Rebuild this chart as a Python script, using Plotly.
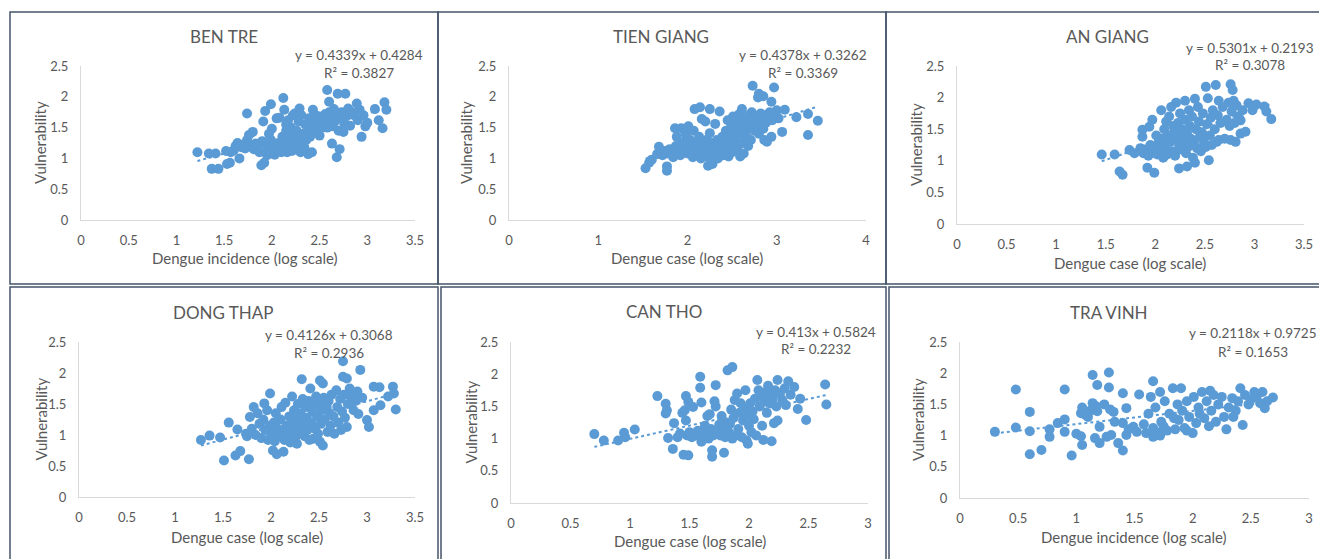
import plotly.graph_objects as go

W, H = 1319, 559
BLUE = "#5B9BD5"
TXT = "#595959"
FONT = "Lato"

titles = ["BEN TRE", "TIEN GIANG", "AN GIANG", "DONG THAP", "CAN THO", "TRA VINH"]
xtitles = ["Dengue incidence (log scale)", "Dengue case (log scale)", "Dengue case (log scale)",
           "Dengue case (log scale)", "Dengue case (log scale)", "Dengue incidence (log scale)"]
equations = ["y = 0.4339x + 0.4284", "y = 0.4378x + 0.3262", "y = 0.5301x + 0.2193",
             "y = 0.4126x + 0.3068", "y = 0.413x + 0.5824", "y = 0.2118x + 0.9725"]
r2_labels = ["R² = 0.3827", "R² = 0.3369", "R² = 0.3078", "R² = 0.2936", "R² = 0.2232", "R² = 0.1653"]
slopes = [0.4339, 0.4378, 0.5301, 0.4126, 0.413, 0.2118]
intercepts = [0.4284, 0.3262, 0.2193, 0.3068, 0.5824, 0.9725]
x_max = [3.5, 4, 3.5, 3.5, 3, 3]
x_dtick = [0.5, 1, 0.5, 0.5, 0.5, 0.5]

ben_tre = [(1.22,1.10),(1.34,1.08),(1.41,1.08),(1.37,0.83),(1.44,0.83),(1.53,0.91),(1.56,0.93),(1.52,1.12),(1.57,1.10),(1.60,1.13),(1.62,1.20),(1.64,1.25),(1.66,1.00),(1.68,1.18),(1.70,1.22),(1.72,1.16),(1.74,1.30),(1.74,1.73),(1.76,1.38),(1.78,1.20),(1.80,1.43),(1.81,1.15),(1.83,1.24),(1.85,1.18),(1.87,1.10),(1.89,0.89),(1.92,0.93),(1.90,1.28),(1.91,1.60),(1.93,1.77),(1.94,1.22),(1.95,1.05),(1.96,1.15),(1.97,1.40),(1.99,1.88),(1.99,1.30),(2.00,1.48),(2.01,1.12),(2.02,1.20),(2.03,1.06),(2.05,1.65),(2.06,1.15),(2.07,1.25),(2.08,1.66),(2.10,1.10),(2.11,1.35),(2.12,1.98),(2.13,1.79),(2.13,1.15),(2.14,1.20),(2.15,1.45),(2.15,1.55),(2.16,1.10),(2.17,1.30),(2.17,1.62),(2.18,1.40),(2.19,1.18),(2.19,1.25),(2.20,1.50),(2.21,1.12),(2.22,1.35),(2.22,1.70),(2.23,1.22),(2.24,1.73),(2.25,1.15),(2.26,1.45),(2.27,1.30),(2.28,1.60),(2.29,1.81),(2.30,1.10),(2.31,1.70),(2.32,1.25),(2.33,1.40),(2.34,1.18),(2.35,1.55),(2.36,1.30),(2.37,1.45),(2.38,1.07),(2.39,1.65),(2.40,1.35),(2.41,1.50),(2.42,1.10),(2.43,1.79),(2.44,1.60),(2.45,1.42),(2.46,1.70),(2.47,1.55),(2.48,1.62),(2.50,1.37),(2.50,1.68),(2.52,1.58),(2.53,1.50),(2.55,1.65),(2.56,1.72),(2.57,1.60),(2.58,2.11),(2.58,1.50),(2.60,1.92),(2.60,1.75),(2.62,1.66),(2.63,1.24),(2.64,1.52),(2.65,1.80),(2.66,1.60),(2.67,1.70),(2.68,1.02),(2.69,2.05),(2.70,1.45),(2.71,1.15),(2.72,1.65),(2.73,1.75),(2.75,1.43),(2.76,1.55),(2.77,2.05),(2.78,1.68),(2.80,1.81),(2.82,1.53),(2.84,1.75),(2.86,1.70),(2.89,1.89),(2.90,1.62),(2.92,1.79),(2.94,1.35),(2.96,1.70),(2.98,1.52),(3.00,1.58),(3.08,1.80),(3.12,1.62),(3.16,1.49),(3.18,1.91),(3.20,1.79)]

tien_giang = [(1.53,0.84),(1.57,0.93),(1.60,0.98),(1.66,1.07),(1.68,1.19),(1.70,1.10),(1.72,1.05),(1.75,1.12),(1.77,0.87),(1.77,0.80),(1.78,1.08),(1.80,1.15),(1.82,1.11),(1.84,1.02),(1.86,1.49),(1.87,1.20),(1.88,1.35),(1.90,1.10),(1.92,1.05),(1.93,1.49),(1.94,1.25),(1.95,1.15),(1.97,1.14),(1.98,1.40),(1.99,1.33),(2.00,1.08),(2.01,1.52),(2.02,1.20),(2.03,1.30),(2.05,1.10),(2.06,1.02),(2.07,1.45),(2.08,1.80),(2.09,1.18),(2.10,1.25),(2.11,1.05),(2.12,1.12),(2.13,1.35),(2.14,1.83),(2.15,1.00),(2.16,1.64),(2.17,1.22),(2.18,1.08),(2.19,1.15),(2.20,1.60),(2.21,1.30),(2.22,1.03),(2.23,0.88),(2.24,1.18),(2.25,1.80),(2.25,1.41),(2.26,1.10),(2.27,1.25),(2.28,0.91),(2.29,1.05),(2.30,1.20),(2.31,1.56),(2.32,1.12),(2.33,1.30),(2.34,1.00),(2.35,1.15),(2.36,1.76),(2.37,1.22),(2.38,1.08),(2.39,1.35),(2.40,1.05),(2.41,1.28),(2.42,1.12),(2.43,1.45),(2.44,1.18),(2.45,1.62),(2.46,1.03),(2.47,1.38),(2.48,1.25),(2.49,1.55),(2.50,1.10),(2.51,1.68),(2.52,1.42),(2.53,1.20),(2.54,1.30),(2.55,1.60),(2.56,1.15),(2.57,1.50),(2.58,1.72),(2.59,1.03),(2.60,1.40),(2.61,1.80),(2.62,1.25),(2.63,1.08),(2.64,1.55),(2.65,1.65),(2.66,1.35),(2.67,1.48),(2.68,1.20),(2.69,1.70),(2.70,1.58),(2.71,1.30),(2.72,1.75),(2.73,2.18),(2.74,1.62),(2.75,1.45),(2.76,1.52),(2.77,1.68),(2.79,1.99),(2.80,2.05),(2.80,1.40),(2.82,1.73),(2.83,1.60),(2.85,2.01),(2.85,1.48),(2.86,1.30),(2.87,1.70),(2.88,1.58),(2.89,1.27),(2.90,1.65),(2.92,1.75),(2.94,1.92),(2.94,1.35),(2.95,1.62),(2.97,2.15),(2.98,1.70),(3.00,1.78),(3.02,1.65),(3.06,1.43),(3.09,1.79),(3.22,1.67),(3.35,1.72),(3.35,1.38),(3.46,1.61)]

an_giang = [(1.46,1.10),(1.59,1.10),(1.64,0.83),(1.67,0.78),(1.74,1.17),(1.79,1.12),(1.85,1.20),(1.87,1.49),(1.87,1.38),(1.88,1.12),(1.90,1.18),(1.92,0.89),(1.93,1.08),(1.94,1.54),(1.95,1.25),(1.96,1.12),(1.97,1.65),(1.99,0.81),(2.00,1.20),(2.01,1.40),(2.02,1.10),(2.03,1.28),(2.05,1.15),(2.06,1.80),(2.07,1.35),(2.08,1.05),(2.09,1.50),(2.10,1.22),(2.11,1.62),(2.12,1.10),(2.13,1.40),(2.14,1.70),(2.15,1.30),(2.16,1.85),(2.17,1.15),(2.18,1.55),(2.19,1.45),(2.20,1.08),(2.21,1.92),(2.22,1.35),(2.23,1.60),(2.24,0.88),(2.24,1.25),(2.25,1.75),(2.26,1.18),(2.27,1.50),(2.28,1.40),(2.29,1.30),(2.30,1.95),(2.30,1.65),(2.31,1.12),(2.32,0.91),(2.32,1.45),(2.33,1.22),(2.34,1.80),(2.35,1.55),(2.36,1.35),(2.37,1.70),(2.38,1.05),(2.39,1.28),(2.40,0.97),(2.40,1.98),(2.41,1.50),(2.42,1.20),(2.43,1.85),(2.44,1.62),(2.45,1.38),(2.46,1.15),(2.47,1.45),(2.48,1.75),(2.49,1.30),(2.51,2.17),(2.51,1.22),(2.52,1.58),(2.53,1.99),(2.54,1.01),(2.55,1.40),(2.56,1.68),(2.57,1.25),(2.58,1.80),(2.60,1.50),(2.61,2.20),(2.62,1.30),(2.63,1.72),(2.64,1.95),(2.64,1.33),(2.66,1.60),(2.68,1.85),(2.70,1.35),(2.72,1.65),(2.74,1.92),(2.75,1.55),(2.76,2.21),(2.76,1.33),(2.77,1.78),(2.78,2.12),(2.79,1.95),(2.80,1.60),(2.81,1.30),(2.82,1.88),(2.84,1.70),(2.86,1.64),(2.86,1.43),(2.88,1.80),(2.91,1.46),(2.94,1.91),(2.98,1.80),(3.02,1.89),(3.10,1.86),(3.12,1.78),(3.17,1.66)]

dong_thap = [(1.27,0.92),(1.36,0.99),(1.47,0.96),(1.51,0.59),(1.56,1.20),(1.63,0.67),(1.65,1.09),(1.68,0.74),(1.74,1.02),(1.75,0.98),(1.77,0.61),(1.78,1.29),(1.80,1.10),(1.82,1.45),(1.84,1.00),(1.86,1.35),(1.88,1.18),(1.90,0.95),(1.92,1.25),(1.93,1.51),(1.94,1.08),(1.96,1.40),(1.97,0.92),(1.98,1.15),(1.99,1.67),(2.00,1.02),(2.02,0.75),(2.03,1.20),(2.04,0.90),(2.05,1.35),(2.06,0.69),(2.07,1.10),(2.08,0.98),(2.10,1.25),(2.11,1.45),(2.12,1.05),(2.13,0.73),(2.14,0.92),(2.15,1.52),(2.16,1.15),(2.18,1.00),(2.19,1.30),(2.20,0.88),(2.21,1.20),(2.22,1.62),(2.23,1.08),(2.24,1.40),(2.25,0.95),(2.26,1.25),(2.27,0.86),(2.28,1.50),(2.29,1.12),(2.30,1.02),(2.31,1.35),(2.32,1.90),(2.33,1.58),(2.34,1.18),(2.35,0.98),(2.36,1.45),(2.37,1.28),(2.38,1.08),(2.39,1.55),(2.40,0.92),(2.41,1.75),(2.42,1.20),(2.43,1.38),(2.44,0.94),(2.45,1.48),(2.46,1.10),(2.47,1.62),(2.48,1.30),(2.49,1.02),(2.50,1.52),(2.51,0.89),(2.51,1.88),(2.52,1.18),(2.53,1.40),(2.54,0.83),(2.54,1.83),(2.55,1.60),(2.56,1.25),(2.58,1.45),(2.59,1.05),(2.60,1.55),(2.61,1.35),(2.62,1.15),(2.63,1.65),(2.65,1.30),(2.66,1.02),(2.68,1.72),(2.69,1.45),(2.70,1.20),(2.72,1.58),(2.73,1.08),(2.74,1.38),(2.75,2.19),(2.75,1.94),(2.76,1.65),(2.77,1.28),(2.79,1.91),(2.79,1.13),(2.80,1.50),(2.82,1.75),(2.84,1.62),(2.86,1.40),(2.88,1.55),(2.90,1.70),(2.91,1.34),(2.93,2.05),(2.95,1.60),(3.00,1.24),(3.02,1.13),(3.07,1.78),(3.07,1.40),(3.13,1.77),(3.14,1.48),(3.22,1.62),(3.27,1.78),(3.28,1.67),(3.30,1.41)]

can_tho = [(0.70,1.07),(0.78,0.97),(0.90,0.97),(0.95,1.09),(0.96,1.02),(1.04,1.14),(1.23,1.66),(1.30,1.54),(1.31,1.44),(1.30,1.39),(1.32,1.01),(1.36,0.84),(1.37,1.24),(1.40,1.02),(1.42,1.08),(1.44,1.40),(1.45,0.75),(1.46,1.44),(1.47,1.66),(1.47,1.28),(1.48,1.05),(1.49,0.74),(1.49,1.57),(1.50,1.10),(1.52,1.02),(1.53,1.49),(1.55,1.05),(1.57,1.12),(1.59,1.96),(1.59,1.79),(1.60,1.56),(1.60,0.95),(1.62,1.02),(1.63,1.20),(1.64,1.08),(1.65,1.35),(1.66,1.00),(1.67,1.38),(1.68,1.15),(1.69,0.82),(1.69,0.72),(1.70,1.05),(1.71,1.58),(1.72,1.83),(1.72,1.50),(1.73,1.10),(1.75,1.22),(1.76,1.05),(1.77,1.35),(1.78,1.18),(1.79,0.78),(1.80,1.02),(1.81,1.25),(1.82,2.06),(1.83,1.10),(1.84,1.23),(1.85,1.45),(1.86,2.11),(1.86,1.00),(1.87,1.32),(1.88,1.60),(1.89,1.05),(1.90,1.70),(1.91,1.15),(1.92,1.40),(1.93,1.55),(1.94,1.02),(1.95,1.28),(1.96,1.48),(1.97,1.75),(1.98,0.97),(1.99,0.92),(1.99,1.35),(2.00,1.20),(2.01,1.55),(2.02,1.10),(2.03,1.42),(2.04,1.30),(2.05,1.62),(2.06,1.05),(2.07,1.91),(2.08,1.75),(2.09,1.50),(2.10,1.65),(2.11,1.20),(2.12,0.98),(2.13,1.58),(2.14,1.72),(2.15,1.40),(2.16,1.82),(2.17,1.55),(2.18,1.68),(2.19,0.96),(2.20,1.62),(2.21,1.24),(2.22,1.75),(2.23,1.50),(2.24,1.91),(2.24,1.28),(2.26,1.70),(2.28,1.60),(2.30,1.78),(2.31,1.52),(2.33,1.89),(2.35,1.68),(2.38,1.80),(2.41,1.46),(2.43,1.62),(2.48,1.29),(2.64,1.84),(2.65,1.53)]

tra_vinh = [(0.30,1.06),(0.48,1.74),(0.48,1.13),(0.60,1.38),(0.60,1.07),(0.60,0.70),(0.70,0.77),(0.77,0.98),(0.77,1.10),(0.84,1.20),(0.90,1.74),(0.90,1.26),(0.90,1.06),(0.96,0.68),(1.00,1.03),(1.04,0.99),(1.05,0.85),(1.05,1.45),(1.04,1.36),(1.08,1.33),(1.10,1.30),(1.12,1.40),(1.14,1.97),(1.18,1.81),(1.14,1.52),(1.17,1.47),(1.18,1.39),(1.16,0.96),(1.20,0.88),(1.20,1.14),(1.24,1.50),(1.28,2.01),(1.28,1.77),(1.29,1.42),(1.26,0.98),(1.30,1.01),(1.32,1.38),(1.33,1.22),(1.36,0.88),(1.40,0.76),(1.40,1.68),(1.43,1.44),(1.40,1.20),(1.43,1.01),(1.45,1.10),(1.49,1.14),(1.52,1.06),(1.54,1.66),(1.58,1.18),(1.60,1.04),(1.62,1.35),(1.64,1.62),(1.66,1.87),(1.66,0.98),(1.66,1.12),(1.68,1.45),(1.70,1.05),(1.72,1.70),(1.72,1.00),(1.73,1.22),(1.75,1.15),(1.76,1.55),(1.78,1.08),(1.80,1.35),(1.83,1.76),(1.84,1.28),(1.85,1.10),(1.87,1.50),(1.88,1.25),(1.90,1.76),(1.91,1.40),(1.93,1.12),(1.95,1.55),(1.95,1.08),(1.97,1.30),(2.00,1.04),(2.01,1.62),(2.03,1.20),(2.05,1.45),(2.06,1.35),(2.08,1.70),(2.10,1.28),(2.12,1.55),(2.14,1.15),(2.15,1.72),(2.16,1.40),(2.18,1.65),(2.20,1.22),(2.22,1.50),(2.25,1.62),(2.27,1.30),(2.29,1.10),(2.31,1.45),(2.34,1.60),(2.35,1.30),(2.37,1.40),(2.39,1.55),(2.41,1.76),(2.43,1.17),(2.45,1.65),(2.48,1.50),(2.50,1.58),(2.53,1.70),(2.55,1.62),(2.58,1.52),(2.60,1.70),(2.62,1.44),(2.64,1.55),(2.69,1.61)]

datasets = [ben_tre, tien_giang, an_giang, dong_thap, can_tho, tra_vinh]

# layout geometry (pixels)
plot_px = [(81, 415, 66, 220), (509, 866, 66, 220), (957, 1304, 66, 224),
           (79, 415, 342, 497), (511, 868, 342, 503), (960, 1309, 342, 498)]
title_px = [(224, 37), (661, 37), (1107, 37), (223, 312), (664, 311), (1109, 312)]
eq_px = [(359, 55, 73), (803, 55, 73), (1250, 48, 65), (329, 335, 353), (816, 332, 349), (1253, 333, 352)]
xt_px = [(245, 258), (687, 258), (1130, 263), (247, 537), (690, 541), (1134, 537)]
yt_px = [40, 466, 916, 40, 470, 918]
frames = [(10, 12, 438, 284), (438, 12, 886, 284), (886, 12, 1325, 284),
          (10, 287, 438, 565), (441, 287, 886, 565), (889, 287, 1325, 565)]

def fx(p):
    return p / W

def fy(p):
    return 1 - p / H

fig = go.Figure()
annotations = []
shapes = []
layout = {}
for i, pts in enumerate(datasets):
    n = i + 1
    xa = "x" if n == 1 else f"x{n}"
    ya = "y" if n == 1 else f"y{n}"
    xs = [p[0] for p in pts]
    ys = [p[1] for p in pts]
    fig.add_trace(go.Scatter(x=xs, y=ys, mode="markers", xaxis=xa, yaxis=ya,
                             marker=dict(size=10, color=BLUE, line=dict(width=0)),
                             showlegend=False, hoverinfo="x+y", cliponaxis=False))
    lx = [min(xs), max(xs)]
    ly = [slopes[i] * v + intercepts[i] for v in lx]
    fig.add_trace(go.Scatter(x=lx, y=ly, mode="lines", xaxis=xa, yaxis=ya,
                             line=dict(color=BLUE, width=2, dash="dot"),
                             showlegend=False, hoverinfo="skip"))
    x0, x1, yt, yb = plot_px[i]
    tf = dict(size=13, color=TXT, family=FONT)
    layout[f"xaxis{'' if n == 1 else n}"] = dict(
        domain=[fx(x0), fx(x1)], range=[0, x_max[i]], dtick=x_dtick[i], tick0=0,
        anchor=ya, showgrid=False, zeroline=False, showline=True, linecolor="#D9D9D9",
        linewidth=1, ticks="", tickfont=tf, ticklabelstandoff=8, fixedrange=True, automargin=False)
    layout[f"yaxis{'' if n == 1 else n}"] = dict(
        domain=[fy(yb), fy(yt)], range=[0, 2.5], dtick=0.5, tick0=0,
        anchor=xa, showgrid=False, zeroline=False, showline=True, linecolor="#D9D9D9",
        linewidth=1, ticks="", tickfont=tf, ticklabelstandoff=9, fixedrange=True, automargin=False)
    tx, ty = title_px[i]
    annotations.append(dict(x=fx(tx), y=fy(ty), xref="paper", yref="paper", text=titles[i],
                            showarrow=False, xanchor="center", yanchor="middle",
                            font=dict(size=17, color=TXT, family=FONT)))
    ex, ey1, ey2 = eq_px[i]
    annotations.append(dict(x=fx(ex), y=fy(ey1), xref="paper", yref="paper", text=equations[i],
                            showarrow=False, xanchor="center", yanchor="middle",
                            font=dict(size=13.5, color=TXT, family=FONT)))
    annotations.append(dict(x=fx(ex), y=fy(ey2), xref="paper", yref="paper", text=r2_labels[i],
                            showarrow=False, xanchor="center", yanchor="middle",
                            font=dict(size=13.5, color=TXT, family=FONT)))
    xx, xy = xt_px[i]
    annotations.append(dict(x=fx(xx), y=fy(xy), xref="paper", yref="paper", text=xtitles[i],
                            showarrow=False, xanchor="center", yanchor="middle",
                            font=dict(size=15, color=TXT, family=FONT)))
    annotations.append(dict(x=fx(yt_px[i]), y=fy((yt + yb) / 2), xref="paper", yref="paper",
                            text="Vulnerability", textangle=-90, showarrow=False,
                            xanchor="center", yanchor="middle",
                            font=dict(size=15, color=TXT, family=FONT)))
    bx0, by0, bx1, by1 = frames[i]
    shapes.append(dict(type="rect", xref="paper", yref="paper",
                       x0=fx(bx0), x1=fx(bx1), y0=fy(by1), y1=fy(by0),
                       line=dict(color="#44546A", width=1.5), fillcolor="rgba(0,0,0,0)", layer="below"))

fig.update_layout(
    width=W, height=H, margin=dict(l=0, r=0, t=0, b=0, pad=0, autoexpand=False),
    paper_bgcolor="white", plot_bgcolor="rgba(0,0,0,0)",
    font=dict(family=FONT, color=TXT),
    annotations=annotations, shapes=shapes, showlegend=False,
    **layout)

fig.write_html("out.html", config={"displayModeBar": False},
               post_script="document.body.style.margin='0px';document.body.style.overflow='hidden';")
